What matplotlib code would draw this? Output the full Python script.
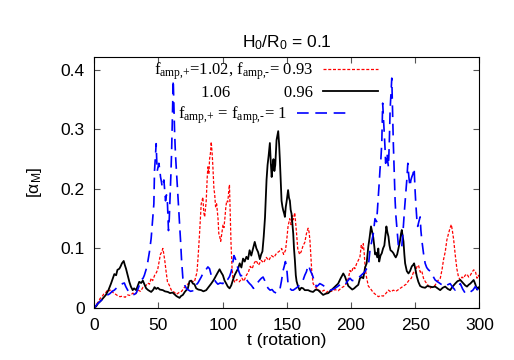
import numpy as np
import matplotlib
matplotlib.use('Agg')
import matplotlib.pyplot as plt

plt.rcParams['font.family'] = 'Liberation Sans'
plt.rcParams['mathtext.fontset'] = 'custom'
plt.rcParams['mathtext.rm'] = 'Liberation Serif'
plt.rcParams['mathtext.it'] = 'Liberation Serif:italic'
plt.rcParams['mathtext.sf'] = 'Liberation Sans'

# serie roja: f_amp,+ = 1.02, f_amp,- = 0.93
t_red = [0, 1.5, 3, 4.5, 6, 7.5, 9, 10.5, 11.7, 13, 14.5, 16, 18, 20, 22, 24, 26, 28, 30, 32,
         34, 36, 38, 40, 41.7, 43, 44.3, 45.5, 47, 48.5, 49.5, 50.5, 51.5, 52.5, 53.4, 54.2, 55, 56, 57, 58.5,
         60, 62, 64, 66, 68, 70, 72, 74, 76, 78, 80, 81, 82, 83.3, 84.6, 85.3, 86, 87.2, 88, 88.5,
         89.3, 89.8, 90.5, 91.1, 91.8, 92.4, 93.2, 93.75, 94.5, 95.3, 96.4, 97, 97.7, 98.5, 99.3, 100.3, 101, 101.8, 102.5, 103.2,
         104, 104.7, 105.3, 105.9, 106.5, 107.3, 108, 109.5, 111, 113, 115, 116.5, 118.5, 120, 121.5, 123, 124.5, 126, 128, 130,
         132, 134, 136, 138, 140, 142, 144, 146, 147.5, 149, 150.2, 151, 152.3, 153.3, 154.2, 155, 156.2, 157, 157.5, 158.5,
         160, 161.3, 162.7, 164, 165.3, 166.6, 167.3, 168, 168.8, 169.5, 170.5, 172, 173.5, 175, 177, 179, 181, 183, 185, 187.5,
         190, 192.7, 195, 196.6, 198, 199.2, 200.5, 201.8, 203, 204.5, 205.7, 207, 208, 208.8, 209.6, 210.3, 211, 212, 213.5, 215,
         217.4, 219, 221.4, 223, 225.2, 227, 229.2, 231, 233, 235, 237, 239, 241, 243, 245, 247, 248.7, 250, 251.3, 252.6,
         254, 255.2, 256.5, 258, 259.5, 261.5, 263.5, 265.5, 267, 268.5, 269.6, 271, 272.1, 273.5, 274.7, 276, 277.3, 278.2, 279, 280,
         281.2, 282.5, 283.8, 285.2, 286.5, 287.7, 289, 290.4, 291.7, 293, 294.3, 295.6, 296.9, 298.2, 299.2, 300]
v_red = [0.0, 0.006, 0.01, 0.016, 0.019, 0.024, 0.026, 0.031, 0.029, 0.031, 0.026, 0.024, 0.021, 0.019, 0.02, 0.018, 0.022, 0.021, 0.025, 0.023,
         0.03, 0.028, 0.035, 0.037, 0.042, 0.04, 0.05, 0.046, 0.055, 0.06, 0.066, 0.078, 0.09, 0.094, 0.1, 0.09, 0.078, 0.06, 0.044, 0.038,
         0.03, 0.027, 0.023, 0.026, 0.028, 0.034, 0.039, 0.042, 0.045, 0.044, 0.06, 0.09, 0.125, 0.175, 0.186, 0.16, 0.153, 0.18, 0.22, 0.237,
         0.225, 0.25, 0.26, 0.279, 0.26, 0.237, 0.2, 0.192, 0.17, 0.175, 0.15, 0.125, 0.12, 0.112, 0.125, 0.14, 0.135, 0.152, 0.17, 0.18,
         0.178, 0.195, 0.207, 0.16, 0.11, 0.068, 0.05, 0.043, 0.048, 0.044, 0.05, 0.045, 0.055, 0.06, 0.07, 0.066, 0.075, 0.08, 0.072, 0.08,
         0.076, 0.085, 0.08, 0.088, 0.085, 0.092, 0.095, 0.1, 0.09, 0.097, 0.12, 0.138, 0.15, 0.14, 0.155, 0.148, 0.16, 0.14, 0.128, 0.1,
         0.09, 0.095, 0.105, 0.11, 0.125, 0.134, 0.128, 0.114, 0.085, 0.06, 0.041, 0.036, 0.033, 0.03, 0.027, 0.03, 0.026, 0.03, 0.028, 0.031,
         0.029, 0.034, 0.037, 0.042, 0.05, 0.063, 0.06, 0.069, 0.066, 0.075, 0.08, 0.086, 0.105, 0.1, 0.108, 0.092, 0.07, 0.053, 0.037, 0.033,
         0.026, 0.023, 0.019, 0.021, 0.02, 0.024, 0.03, 0.027, 0.03, 0.028, 0.031, 0.034, 0.037, 0.04, 0.046, 0.05, 0.06, 0.058, 0.069, 0.072,
         0.06, 0.062, 0.05, 0.044, 0.04, 0.033, 0.036, 0.038, 0.044, 0.048, 0.05, 0.065, 0.081, 0.095, 0.114, 0.125, 0.135, 0.14, 0.13, 0.115,
         0.09, 0.066, 0.052, 0.047, 0.052, 0.05, 0.055, 0.057, 0.052, 0.055, 0.06, 0.064, 0.062, 0.05, 0.055, 0.052]

# serie negra: 1.06, 0.96
t_blk = [0, 1.5, 3, 5, 7, 9, 11, 13, 14.5, 15.6, 17, 18, 19.5, 20.5, 21.5, 22.9, 23.8, 24.7, 26, 27.3,
         28.5, 29.9, 31, 32.6, 34, 35, 36.5, 37.8, 39, 40.4, 42, 44.3, 46, 46.9, 48.3, 49.5, 51, 53.4, 55, 57.3,
         59, 61, 62.5, 64, 66.4, 67.5, 69, 70.5, 72.9, 74.2, 75.5, 76.8, 78, 79.4, 81, 83.3, 85, 87.2, 89, 91.1,
         93, 95, 96.3, 97.6, 98.8, 100.2, 101.5, 102.8, 104, 105.4, 106.7, 108, 109.3, 110.7, 112, 113.3, 114.6, 115.9, 117.2, 118.5,
         119.8, 121, 122.3, 123.7, 125, 126.3, 127.6, 129, 130, 131, 132, 133, 134.2, 135, 135.8, 136.8, 137.5, 138.2, 139, 139.6,
         140.3, 141, 142, 143.3, 144, 144.6, 145.3, 145.9, 146.6, 147.2, 148, 148.5, 149.2, 149.8, 150.5, 151, 151.7, 152.4, 153, 153.7,
         154.4, 155, 155.6, 156.3, 157, 157.6, 158.8, 160, 161.3, 162.7, 164, 166.6, 168.5, 170.5, 172.5, 174.4, 176.3, 178.3, 180.3, 182.3,
         184.2, 186.2, 188, 190, 192, 194, 195.3, 196.6, 197.9, 199.5, 201, 202.5, 204, 205.7, 207, 208.5, 209.6, 211, 212.2, 213.5,
         214.5, 215.6, 216.5, 217.4, 218.2, 218.8, 219.5, 220.5, 221.3, 222, 223, 224, 225, 226, 227, 227.6, 228.4, 229.2, 230, 230.8,
         232, 233.1, 234, 234.9, 236, 237, 238.3, 239, 239.6, 240.3, 240.9, 241.6, 242.2, 243.5, 244.8, 246, 247.4, 248.3, 249.2, 250.2,
         251.3, 252.5, 253.9, 255.5, 257.8, 259.5, 261.7, 263.5, 265.6, 267.5, 269.5, 271.5, 273.4, 275.5, 277.3, 279.2, 281.2, 283, 285.2, 286.5,
         287.7, 289, 290.4, 291.7, 293, 294.3, 295.6, 296.9, 298.2, 299.2, 300]
v_blk = [0.0, 0.003, 0.008, 0.012, 0.017, 0.022, 0.03, 0.041, 0.05, 0.057, 0.055, 0.064, 0.066, 0.07, 0.075, 0.079, 0.072, 0.066, 0.055, 0.044,
         0.036, 0.03, 0.033, 0.03, 0.038, 0.044, 0.042, 0.046, 0.04, 0.033, 0.03, 0.027, 0.031, 0.035, 0.032, 0.034, 0.031, 0.03, 0.028, 0.027,
         0.025, 0.026, 0.023, 0.02, 0.017, 0.02, 0.022, 0.027, 0.033, 0.045, 0.046, 0.041, 0.04, 0.033, 0.031, 0.03, 0.028, 0.03, 0.035, 0.041,
         0.047, 0.055, 0.06, 0.065, 0.06, 0.055, 0.046, 0.041, 0.036, 0.033, 0.038, 0.047, 0.055, 0.061, 0.066, 0.075, 0.068, 0.083, 0.078, 0.086,
         0.082, 0.097, 0.088, 0.1, 0.111, 0.1, 0.094, 0.082, 0.09, 0.095, 0.12, 0.152, 0.215, 0.24, 0.255, 0.277, 0.245, 0.22, 0.24, 0.25,
         0.23, 0.24, 0.282, 0.297, 0.275, 0.248, 0.21, 0.18, 0.17, 0.164, 0.158, 0.153, 0.17, 0.178, 0.19, 0.198, 0.185, 0.18, 0.165, 0.158,
         0.14, 0.125, 0.1, 0.08, 0.055, 0.045, 0.036, 0.03, 0.034, 0.033, 0.03, 0.03, 0.028, 0.027, 0.031, 0.03, 0.026, 0.022, 0.024, 0.025,
         0.029, 0.033, 0.037, 0.041, 0.05, 0.058, 0.053, 0.045, 0.037, 0.034, 0.031, 0.033, 0.036, 0.039, 0.05, 0.052, 0.05, 0.068, 0.075, 0.103,
         0.118, 0.137, 0.128, 0.118, 0.103, 0.09, 0.093, 0.085, 0.1, 0.078, 0.088, 0.092, 0.1, 0.105, 0.125, 0.137, 0.127, 0.12, 0.105, 0.097,
         0.095, 0.092, 0.088, 0.085, 0.09, 0.1, 0.114, 0.125, 0.131, 0.12, 0.112, 0.09, 0.075, 0.062, 0.058, 0.062, 0.07, 0.072, 0.075, 0.065,
         0.053, 0.044, 0.037, 0.035, 0.034, 0.037, 0.036, 0.035, 0.036, 0.033, 0.03, 0.034, 0.036, 0.032, 0.03, 0.036, 0.041, 0.045, 0.047, 0.044,
         0.041, 0.038, 0.036, 0.039, 0.041, 0.044, 0.047, 0.04, 0.031, 0.035, 0.033]

# serie azul: f_amp,+ = f_amp,- = 1
t_blu = [0, 2, 4, 6, 8, 10.4, 12, 14, 15.6, 17.5, 19, 20.8, 22, 23.4, 24.5, 26, 28, 30, 31.3, 32.6,
         34, 35, 36.5, 38, 39, 40.4, 41.7, 43, 44.3, 45.5, 46.4, 46.9, 47.5, 48.2, 48.6, 49, 50.3, 51, 51.6, 52.3,
         52.9, 53.6, 54.2, 54.9, 55.5, 56.2, 56.8, 57.3, 57.8, 58.4, 58.9, 59.6, 60.2, 60.8, 61.5, 62, 62.5, 63, 63.5, 64.3,
         65.1, 66.2, 67.2, 68, 69, 70.5, 72, 73.5, 75, 76.8, 78, 79.4, 80.7, 82, 83.3, 84.6, 85.9, 87.2, 88.5, 89.8,
         91.1, 92.4, 93.7, 95, 96.3, 98, 100.2, 101.5, 102.8, 104, 105.4, 106.5, 107.5, 108.2, 108.8, 109.7, 110.7, 111.7, 112.7, 114,
         115.5, 117.2, 118.5, 119.8, 121, 122.4, 124, 125.5, 127, 128.9, 130.2, 131.5, 132.8, 134.1, 135.5, 137, 138.5, 140, 141.9, 143.2,
         144.5, 145.8, 147.1, 148, 148.9, 149.8, 150.5, 151, 152.4, 153.7, 155, 157, 158.8, 160.5, 162.7, 164, 165.3, 166.6, 167.5, 168.5,
         170, 171.5, 173.1, 174.4, 175.7, 177.5, 179.6, 181.5, 183.6, 185.5, 187.5, 189.5, 191.4, 193.4, 195.3, 197.3, 199.2, 201, 203, 205,
         207, 209, 210.9, 212.2, 213.5, 214.8, 216, 217.4, 218.7, 220, 221.4, 222, 222.6, 223.3, 224, 224.7, 225.3, 226, 226.5, 227,
         227.6, 228.1, 228.7, 229.2, 229.9, 230.5, 231.2, 231.8, 232.4, 233, 233.7, 234.4, 235, 235.7, 236.4, 237, 238.3, 239.6, 240.6, 241.7,
         242.6, 243.5, 244.3, 245.1, 246, 246.7, 247.4, 248.3, 249.2, 249.9, 250.5, 251.3, 252, 252.9, 253.9, 254.5, 255.2, 256.5, 257.8, 259,
         260.4, 261.7, 263, 264.3, 265.6, 267.5, 269.5, 271.5, 273.4, 275.3, 277.3, 279.2, 281.2, 283.2, 285.2, 287, 289, 291, 293, 295,
         296.9, 298.2, 299.5, 300]
v_blu = [0.0, 0.006, 0.01, 0.014, 0.018, 0.022, 0.024, 0.028, 0.03, 0.034, 0.036, 0.038, 0.041, 0.042, 0.036, 0.03, 0.026, 0.022, 0.023, 0.025,
         0.032, 0.038, 0.047, 0.05, 0.055, 0.065, 0.078, 0.095, 0.117, 0.15, 0.175, 0.23, 0.25, 0.276, 0.25, 0.23, 0.243, 0.232, 0.22, 0.212,
         0.203, 0.21, 0.215, 0.195, 0.18, 0.19, 0.186, 0.16, 0.13, 0.15, 0.178, 0.22, 0.26, 0.32, 0.383, 0.34, 0.3, 0.27, 0.248, 0.22,
         0.19, 0.15, 0.113, 0.08, 0.05, 0.038, 0.032, 0.03, 0.028, 0.029, 0.035, 0.039, 0.042, 0.047, 0.052, 0.058, 0.061, 0.065, 0.069, 0.066,
         0.055, 0.05, 0.047, 0.043, 0.04, 0.042, 0.041, 0.047, 0.05, 0.048, 0.053, 0.06, 0.069, 0.08, 0.088, 0.084, 0.077, 0.068, 0.061, 0.054,
         0.055, 0.052, 0.048, 0.044, 0.041, 0.038, 0.033, 0.036, 0.042, 0.047, 0.05, 0.052, 0.046, 0.038, 0.033, 0.03, 0.031, 0.027, 0.025, 0.027,
         0.03, 0.045, 0.063, 0.07, 0.078, 0.07, 0.052, 0.04, 0.033, 0.03, 0.03, 0.033, 0.036, 0.04, 0.047, 0.055, 0.061, 0.072, 0.068, 0.062,
         0.055, 0.045, 0.036, 0.038, 0.041, 0.039, 0.036, 0.033, 0.03, 0.031, 0.033, 0.036, 0.039, 0.037, 0.039, 0.045, 0.05, 0.046, 0.047, 0.05,
         0.053, 0.057, 0.061, 0.066, 0.069, 0.097, 0.11, 0.125, 0.15, 0.145, 0.19, 0.21, 0.232, 0.25, 0.277, 0.344, 0.32, 0.294, 0.27, 0.243,
         0.25, 0.26, 0.245, 0.237, 0.28, 0.333, 0.36, 0.386, 0.33, 0.277, 0.23, 0.18, 0.155, 0.137, 0.12, 0.103, 0.1, 0.103, 0.13, 0.165,
         0.19, 0.215, 0.243, 0.22, 0.204, 0.215, 0.22, 0.225, 0.235, 0.2, 0.176, 0.15, 0.137, 0.145, 0.153, 0.13, 0.114, 0.092, 0.075, 0.068,
         0.064, 0.062, 0.058, 0.052, 0.047, 0.044, 0.041, 0.038, 0.036, 0.039, 0.041, 0.035, 0.03, 0.035, 0.041, 0.032, 0.025, 0.024, 0.027, 0.03,
         0.036, 0.032, 0.03, 0.028]

etiquetas = [r'$\mathrm{f_{\text{amp,+}}}$=1.02, $\mathrm{f_{\text{amp,-}}}$= 0.93',
             '1.06' + ' ' * 13 + '0.96',
             r'$\mathrm{f_{\text{amp,+}}}$ = $\mathrm{f_{\text{amp,-}}}$= 1']

fig = plt.figure(figsize=(5.14, 3.6), dpi=100)
ax = fig.add_axes([0.1835, 0.1444, 0.7490, 0.6965])

l1, = ax.plot(t_red, v_red, color='#ff0000', lw=0.9, dashes=(2.4, 1.4))
l2, = ax.plot(t_blk, v_blk, color='black', lw=1.3)
l3, = ax.plot(t_blu, v_blu, color='#0000ff', lw=1.2, dashes=(7, 4))

ax.set_xlim(0, 300)
ax.set_ylim(0, 0.421)
ax.set_xticks([0, 50, 100, 150, 200, 250, 300])
ax.set_yticks([0, 0.1, 0.2, 0.3, 0.4])
ax.set_yticklabels(['0', '0.1', '0.2', '0.3', '0.4'])
ax.tick_params(direction='in', top=True, right=True, length=4, width=0.8,
               labelsize=12.5, pad=7, color='#555555')

ax.set_title(r'$\mathsf{H_0/R_0}$ = 0.1', fontsize=12.5, pad=7)
ax.set_xlabel('t (rotation)', fontsize=12.5, labelpad=0)
ax.set_ylabel(r'[$\mathsf{\alpha_M}$]', fontsize=12.5, labelpad=12)

leyenda_prop = {'family': 'Liberation Serif', 'size': 12}
ley1 = ax.legend([l1, l2], etiquetas[:2], loc='upper right', bbox_to_anchor=(0.745, 1.0),
                 frameon=False, markerfirst=False, handlelength=3.3, handletextpad=0.6,
                 labelspacing=0.15, borderaxespad=0.2, borderpad=0, prop=leyenda_prop)
ax.add_artist(ley1)
ax.legend([l3], etiquetas[2:], loc='center right', bbox_to_anchor=(0.67, 0.77),
          frameon=False, markerfirst=False, handlelength=3.3, handletextpad=0.6,
          borderaxespad=0, borderpad=0, prop=leyenda_prop)

plt.savefig('out.png', dpi=100)
